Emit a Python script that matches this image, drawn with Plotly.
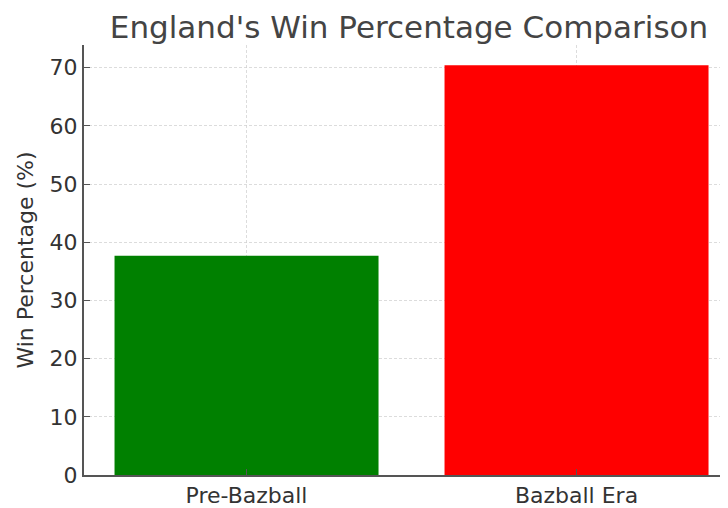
import plotly.graph_objects as go

categories = ["Pre-Bazball", "Bazball Era"]
win_pct = [37.7, 70.4]
bar_colors = ["#008000", "#ff0000"]
y_ticks = [0, 10, 20, 30, 40, 50, 60, 70]

FONT = "DejaVu Sans"
TXT = "#333333"
GRID = "rgba(205,205,205,0.7)"

# the page body adds an 8px offset, so the figure is 8px smaller on each side
W, H = 720, 500

fig = go.Figure(
    go.Bar(
        x=categories,
        y=win_pct,
        marker=dict(color=bar_colors, line=dict(width=0)),
        width=0.8,
    )
)

fig.update_layout(
    width=W,
    height=H,
    margin=dict(l=76, r=0, t=37, b=30),
    paper_bgcolor="white",
    plot_bgcolor="white",
    showlegend=False,
    font=dict(family=FONT, color=TXT, size=22),
    title=dict(
        text="England's Win Percentage Comparison",
        font=dict(family=FONT, size=31, color="#444444"),
        x=401 / W,
        xanchor="center",
        xref="container",
        y=1 - 19 / H,
        yanchor="middle",
        yref="container",
    ),
)

fig.update_xaxes(
    range=[-0.4925, 1.459],
    showline=True,
    linecolor="#555555",
    linewidth=2,
    ticks="inside",
    ticklen=6,
    tickcolor="#555555",
    showgrid=True,
    gridcolor=GRID,
    griddash="3px,2px",
    gridwidth=1,
    layer="above traces",
    tickfont=dict(family=FONT, size=22, color=TXT),
    zeroline=False,
)

fig.update_yaxes(
    range=[0, 73.9],
    tickvals=y_ticks,
    showline=True,
    linecolor="#555555",
    linewidth=2,
    ticks="inside",
    ticklen=6,
    tickcolor="#555555",
    showgrid=True,
    gridcolor=GRID,
    griddash="3px,2px",
    gridwidth=1,
    layer="above traces",
    tickfont=dict(family=FONT, size=22, color=TXT),
    zeroline=False,
    title=dict(text="Win Percentage (%)", font=dict(family=FONT, size=22, color=TXT), standoff=10),
)

fig.write_html("out.html")
